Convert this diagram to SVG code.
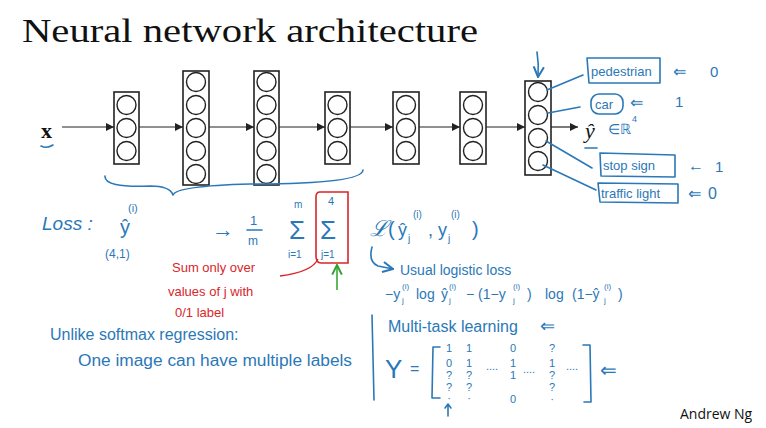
<svg xmlns="http://www.w3.org/2000/svg" width="766" height="428" viewBox="0 0 766 428">
<defs>
<style>
.layer rect{fill:#fff;stroke:#222;stroke-width:1.6}
.layer circle{fill:#fff;stroke:#222;stroke-width:1.4}
.conn line{stroke:#222;stroke-width:1.2}
.ink{fill:none;stroke:#2b78b8;stroke-width:1.6;stroke-linecap:round;stroke-linejoin:round}
.hw{font-family:"Liberation Sans",Arial,sans-serif;fill:#2b78b8}
.red{font-family:"Liberation Sans",Arial,sans-serif;fill:#d8262a}
.title{font-family:"Liberation Serif","Times New Roman",serif;fill:#111}
</style>
<marker id="ah" viewBox="0 0 10 10" refX="10" refY="5" markerWidth="7" markerHeight="7" orient="auto"><path d="M0,0 L10,5 L0,10 z" fill="#222"/></marker>
<marker id="bh" viewBox="0 0 10 10" refX="9" refY="5" markerWidth="8" markerHeight="8" orient="auto"><path d="M1,1 L9,5 L1,9" fill="none" stroke="#2b78b8" stroke-width="1.6"/></marker>
<marker id="gh" viewBox="0 0 10 10" refX="9" refY="5" markerWidth="8" markerHeight="8" orient="auto"><path d="M1,1 L9,5 L1,9" fill="none" stroke="#2ca02c" stroke-width="1.6"/></marker>
</defs>
<rect width="766" height="428" fill="#fff"/>
<text class="title" x="22" y="42" font-size="33" textLength="456" lengthAdjust="spacingAndGlyphs">Neural network architecture</text>

<g id="input"><text class="title" x="41" y="138" font-size="22" font-weight="bold">x</text>
<path class="ink" d="M41,146 Q47,149 53,145"/></g>

<g class="conn" id="connectors">
<line x1="62" y1="127" x2="114" y2="127" marker-end="url(#ah)"/>
<line x1="139" y1="127" x2="183" y2="127" marker-end="url(#ah)"/>
<line x1="209" y1="127" x2="254" y2="127" marker-end="url(#ah)"/>
<line x1="279" y1="127" x2="325" y2="127" marker-end="url(#ah)"/>
<line x1="350" y1="127" x2="393" y2="127" marker-end="url(#ah)"/>
<line x1="419" y1="127" x2="460" y2="127" marker-end="url(#ah)"/>
<line x1="486" y1="127" x2="525" y2="127" marker-end="url(#ah)"/>
<line x1="551" y1="127" x2="578" y2="127" marker-end="url(#ah)"/>
</g>

<g id="layer1" class="layer"><rect x="114" y="92" width="25" height="72"/><circle cx="126.5" cy="105" r="9.5"/><circle cx="126.5" cy="128" r="9.5"/><circle cx="126.5" cy="151" r="9.5"/></g>
<g id="layer2" class="layer"><rect x="183" y="71" width="26" height="114"/><circle cx="196" cy="82" r="9.5"/><circle cx="196" cy="105" r="9.5"/><circle cx="196" cy="128" r="9.5"/><circle cx="196" cy="151" r="9.5"/><circle cx="196" cy="174" r="9.5"/></g>
<g id="layer3" class="layer"><rect x="254" y="71" width="25" height="114"/><circle cx="266.5" cy="82" r="9.5"/><circle cx="266.5" cy="105" r="9.5"/><circle cx="266.5" cy="128" r="9.5"/><circle cx="266.5" cy="151" r="9.5"/><circle cx="266.5" cy="174" r="9.5"/></g>
<g id="layer4" class="layer"><rect x="325" y="92" width="25" height="72"/><circle cx="337.5" cy="105" r="9.5"/><circle cx="337.5" cy="128" r="9.5"/><circle cx="337.5" cy="151" r="9.5"/></g>
<g id="layer5" class="layer"><rect x="393" y="92" width="26" height="72"/><circle cx="406" cy="105" r="9.5"/><circle cx="406" cy="128" r="9.5"/><circle cx="406" cy="151" r="9.5"/></g>
<g id="layer6" class="layer"><rect x="460" y="92" width="26" height="72"/><circle cx="473" cy="105" r="9.5"/><circle cx="473" cy="128" r="9.5"/><circle cx="473" cy="151" r="9.5"/></g>
<g id="output" class="layer"><rect x="525" y="81" width="26" height="94"/><circle cx="538" cy="92" r="9.5"/><circle cx="538" cy="115" r="9.5"/><circle cx="538" cy="138" r="9.5"/><circle cx="538" cy="161" r="9.5"/></g>

<g id="yhat"><text class="title" x="585" y="138" font-size="22" font-style="italic">ŷ</text>
<path class="ink" d="M585,148 L597,148"/>
<text class="hw" x="608" y="134" font-size="14">∈ℝ</text><text class="hw" x="632" y="122" font-size="9">4</text></g>

<g id="annot-out">
<path class="ink" d="M537,52 Q539,64 538,77" marker-end="url(#bh)"/>
<path class="ink" d="M547,90 L583,75"/>
<path class="ink" d="M548,113 L580,107"/>
<path class="ink" d="M546,141 L592,168"/>
<path class="ink" d="M543,165 L596,190"/>
<path class="ink" d="M587,58 L660,58 L660,83 L589,83 Z"/>
<text class="hw" x="591" y="76" font-size="13">pedestrian</text>
<text class="hw" x="673" y="77" font-size="16">⇐</text><text class="hw" x="710" y="77" font-size="15">0</text>
<rect class="ink" x="591" y="94" width="32" height="20" rx="8"/>
<text class="hw" x="595" y="109" font-size="13">car</text>
<text class="hw" x="630" y="108" font-size="16">⇐</text><text class="hw" x="675" y="107" font-size="15">1</text>
<path class="ink" d="M600,153 L675,155 L675,177 L601,176 Z"/>
<text class="hw" x="603" y="170" font-size="13">stop sign</text>
<text class="hw" x="688" y="171" font-size="16">←</text><text class="hw" x="715" y="172" font-size="15">1</text>
<path class="ink" d="M598,183 L678,184 L678,203 L600,202 Z"/>
<text class="hw" x="601" y="198" font-size="13">traffic light</text>
<text class="hw" x="688" y="199" font-size="16">⇐</text><text class="hw" x="708" y="199" font-size="16">0</text>
<path class="ink" d="M105,176 Q104,188 150,186 Q170,186 173,195 Q176,186 250,184 Q362,184 363,170"/>
</g>

<g id="loss">
<text class="hw" x="42" y="230" font-size="19" font-style="italic">Loss :</text>
<text class="hw" x="120" y="234" font-size="20">ŷ</text><text class="hw" x="128" y="212" font-size="11">(i)</text>
<text class="hw" x="105" y="258" font-size="12">(4,1)</text>
<text class="hw" x="212" y="237" font-size="22">→</text>
<text class="hw" x="250" y="225" font-size="13">1</text><path class="ink" d="M247,230 L262,230"/><text class="hw" x="248" y="245" font-size="12">m</text>
<text class="hw" x="294" y="208" font-size="10">m</text>
<text class="hw" x="289" y="239" font-size="26">Σ</text>
<text class="hw" x="288" y="258" font-size="10">i=1</text>
<path fill="none" stroke="#d8262a" stroke-width="1.6" d="M320,192 L348,192 L348,263 L321,263 Q316,263 316,256 L316,197 Q316,192 320,192 Z"/>
<text class="hw" x="328" y="205" font-size="11">4</text>
<text class="hw" x="320" y="239" font-size="26">Σ</text>
<text class="hw" x="321" y="258" font-size="10">j=1</text>
<path fill="none" stroke="#d8262a" stroke-width="1.4" d="M318,259 Q312,272 280,276"/>
<path fill="none" stroke="#2ca02c" stroke-width="1.5" d="M337,290 L337,265" marker-end="url(#gh)"/>
<text class="hw" x="370" y="236" font-size="22" font-style="italic">ℒ</text>
<text class="hw" x="388" y="236" font-size="20">(</text>
<text class="hw" x="398" y="236" font-size="18">ŷ</text><text class="hw" x="408" y="242" font-size="10">j</text><text class="hw" x="413" y="218" font-size="10">(i)</text>
<text class="hw" x="428" y="236" font-size="18">,</text>
<text class="hw" x="438" y="236" font-size="18">y</text><text class="hw" x="448" y="242" font-size="10">j</text><text class="hw" x="451" y="218" font-size="10">(i)</text>
<text class="hw" x="472" y="236" font-size="20">)</text>
<path class="ink" d="M372,247 Q368,262 378,266 L393,269" marker-end="url(#bh)"/>
<text class="hw" x="400" y="275" font-size="14">Usual logistic loss</text>
</g>

<g id="logloss" font-size="14">
<text class="hw" x="385" y="299">−y</text>
<text class="hw" x="402" y="289" font-size="8">(i)</text><text class="hw" x="402" y="303" font-size="8">j</text>
<text class="hw" x="416" y="299">log</text>
<text class="hw" x="441" y="299">ŷ</text>
<text class="hw" x="449" y="289" font-size="8">(i)</text><text class="hw" x="449" y="303" font-size="8">j</text>
<text class="hw" x="466" y="299">− (1−y</text>
<text class="hw" x="513" y="289" font-size="8">(i)</text><text class="hw" x="513" y="303" font-size="8">j</text>
<text class="hw" x="527" y="299">)</text>
<text class="hw" x="545" y="299">log</text>
<text class="hw" x="572" y="299">(1−ŷ</text>
<text class="hw" x="604" y="289" font-size="8">(i)</text><text class="hw" x="604" y="303" font-size="8">j</text>
<text class="hw" x="618" y="299">)</text>
</g>

<g id="red-note">
<text class="red" x="172" y="272" font-size="13">Sum only over</text>
<text class="red" x="168" y="296" font-size="13">values of j with</text>
<text class="red" x="175" y="317" font-size="13">0/1 label</text>
</g>

<g id="softmax-note">
<text class="hw" x="50" y="340" font-size="16">Unlike softmax regression:</text>
<text class="hw" x="78" y="366" font-size="16" textLength="274" lengthAdjust="spacingAndGlyphs">One image can have multiple labels</text>
</g>

<path class="ink" d="M372,315 L374,400"/>

<g id="multitask">
<text class="hw" x="388" y="332" font-size="16">Multi-task learning</text>
<text class="hw" x="540" y="332" font-size="18">⇐</text>
<text class="hw" x="385" y="378" font-size="26">Y</text>
<text class="hw" x="410" y="374" font-size="16">=</text>
<path class="ink" d="M440,347 L433,347 L432,398 L440,398"/>
<path class="ink" d="M583,345 L590,345 L591,402 L584,402"/>
<g font-size="11" text-anchor="middle">
<text class="hw" x="449" y="352">1</text><text class="hw" x="449" y="367">0</text><text class="hw" x="449" y="379">?</text><text class="hw" x="449" y="391">?</text><text class="hw" x="449" y="402">·</text>
<text class="hw" x="469" y="352">1</text><text class="hw" x="469" y="367">1</text><text class="hw" x="469" y="379">?</text><text class="hw" x="469" y="391">?</text><text class="hw" x="469" y="402">·</text>
<text class="hw" x="492" y="370">....</text>
<text class="hw" x="513" y="352">0</text><text class="hw" x="513" y="367">1</text><text class="hw" x="513" y="379">1</text><text class="hw" x="513" y="403">0</text>
<text class="hw" x="529" y="373">....</text>
<text class="hw" x="552" y="352">?</text><text class="hw" x="552" y="367">1</text><text class="hw" x="552" y="379">?</text><text class="hw" x="552" y="391">?</text><text class="hw" x="552" y="403">·</text>
<text class="hw" x="572" y="370">....</text>
</g>
<text class="hw" x="600" y="377" font-size="20">⇐</text>
<path class="ink" d="M448,416 L448,405 M445,408 L448,404 L451,408"/>
</g>

<text x="680" y="419" font-family="'Open Sans','Liberation Sans',sans-serif" font-size="14" fill="#111">Andrew Ng</text>
</svg>
